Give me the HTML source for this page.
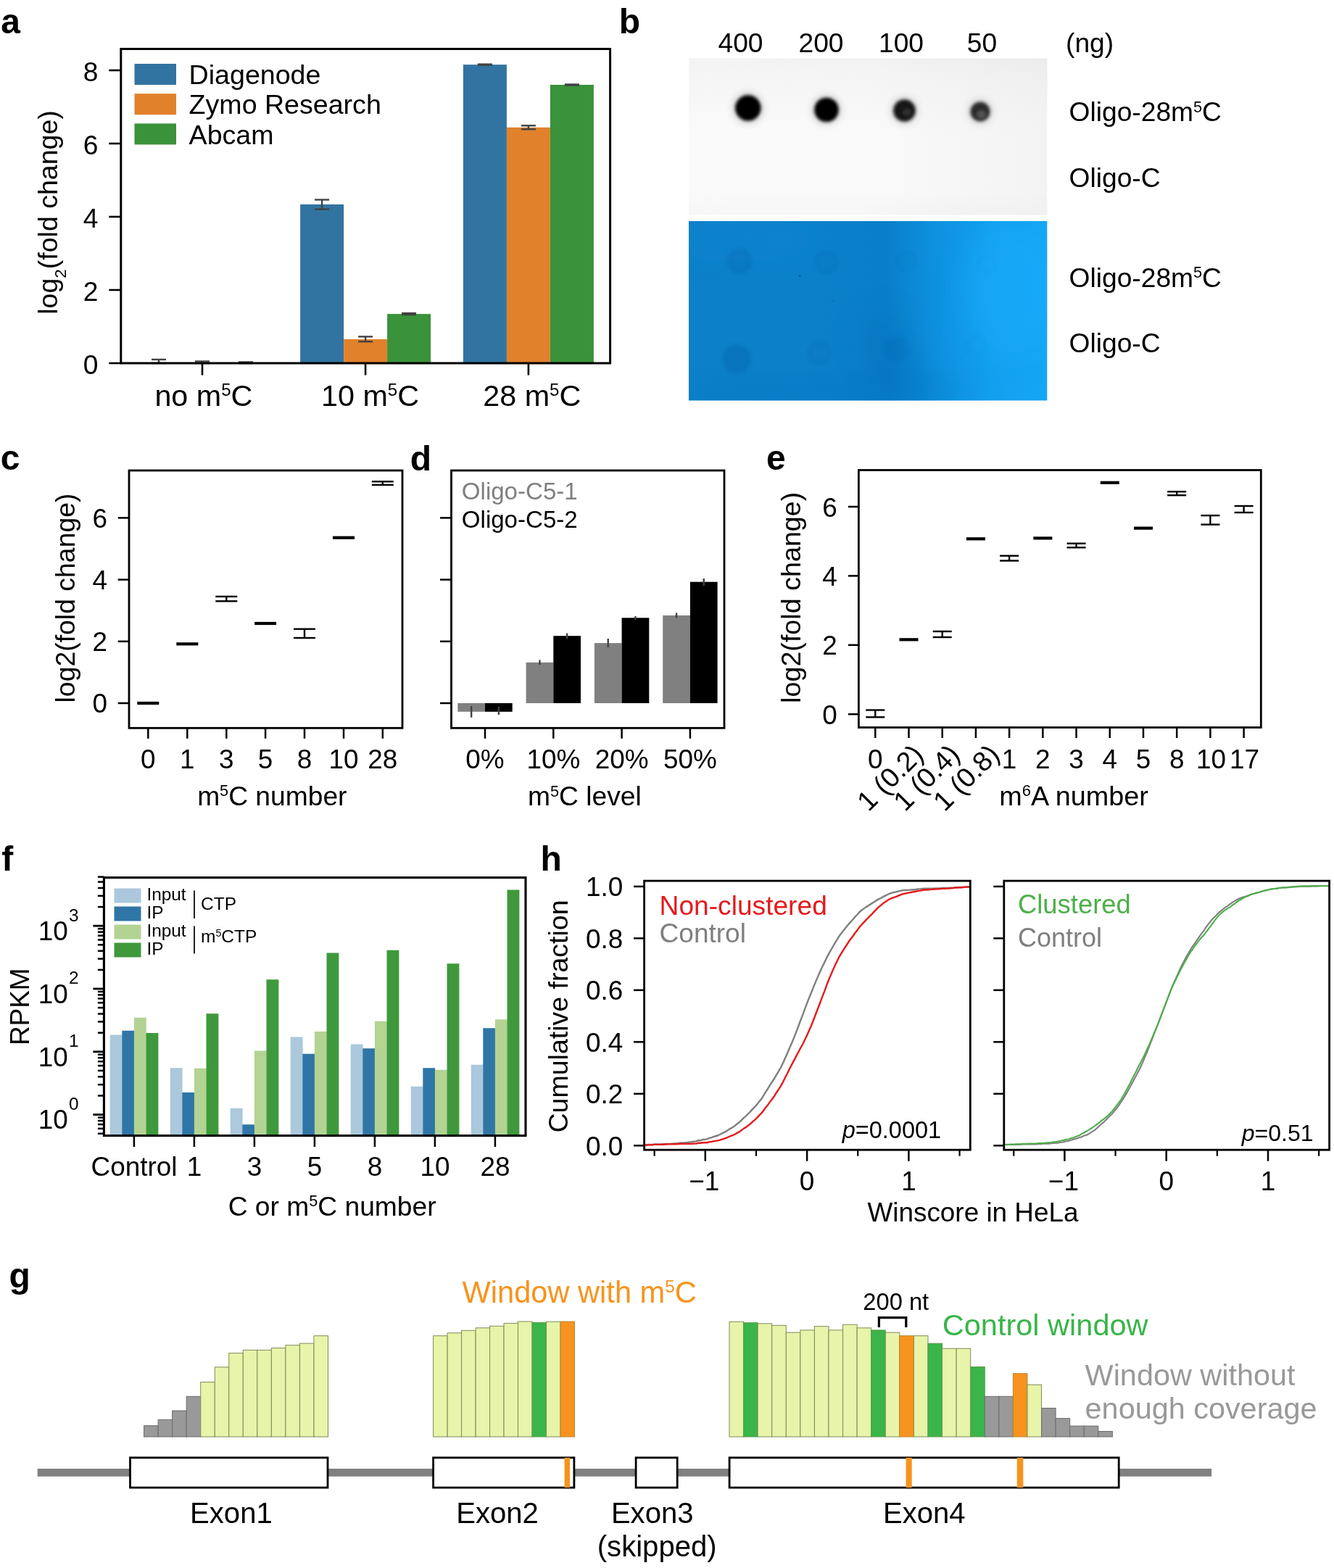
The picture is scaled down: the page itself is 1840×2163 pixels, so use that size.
<!DOCTYPE html>
<html lang="en">
<head>
<meta charset="utf-8">
<title>Figure: antibody evaluation and window analysis</title>
<style>
html,body{margin:0;padding:0;background:#fff;}
body{width:1840px;height:2163px;overflow:hidden;}
svg{display:block;font-family:'Liberation Sans', sans-serif;}
text{white-space:pre;}
</style>
</head>
<body>
<svg width="1840" height="2163" viewBox="0 0 1840 2163">
<defs>
<linearGradient id="bg1" x1="0" y1="0" x2="1" y2="0">
<stop offset="0" stop-color="#0c80c8"/><stop offset="0.3" stop-color="#0c81ca"/><stop offset="0.55" stop-color="#0a7fc9"/><stop offset="0.68" stop-color="#0e90de"/><stop offset="0.85" stop-color="#13a1ef"/><stop offset="1" stop-color="#14a6f5"/>
</linearGradient>
<linearGradient id="gg1" x1="0" y1="0" x2="0" y2="1">
<stop offset="0" stop-color="#eeeeee"/><stop offset="0.12" stop-color="#f2f2f2"/><stop offset="0.5" stop-color="#f8f8f8"/><stop offset="0.85" stop-color="#f8f8f8"/><stop offset="1" stop-color="#f3f3f3"/>
</linearGradient>
<linearGradient id="gg2" x1="0" y1="0" x2="1" y2="0">
<stop offset="0" stop-color="#fff" stop-opacity="0.3"/><stop offset="0.5" stop-color="#fff" stop-opacity="0.25"/><stop offset="0.85" stop-color="#ececec" stop-opacity="0.2"/><stop offset="1" stop-color="#e8e8e8" stop-opacity="0.3"/>
</linearGradient>
<clipPath id="cpb"><rect x="950" y="305" width="494.3" height="247.5"/></clipPath>
<clipPath id="cpg"><rect x="950" y="80.5" width="494.3" height="216"/></clipPath>
<filter id="bl3" x="-50%" y="-50%" width="200%" height="200%"><feGaussianBlur stdDeviation="3"/></filter>
<filter id="bl5" x="-50%" y="-50%" width="200%" height="200%"><feGaussianBlur stdDeviation="5"/></filter>
<filter id="bl20" x="-50%" y="-50%" width="200%" height="200%"><feGaussianBlur stdDeviation="22"/></filter>
<filter id="bl2" x="-50%" y="-50%" width="200%" height="200%"><feGaussianBlur stdDeviation="2.2"/></filter>
</defs>
<rect x="0" y="0" width="1840" height="2163" fill="#fff"/>
<!-- panel a -->
<text x="1.2" y="45.8" font-size="48" font-weight="bold">a</text>
<line x1="219" y1="501" x2="219" y2="495.95" stroke="#424242" stroke-width="2.4"/>
<line x1="209" y1="501" x2="229" y2="501" stroke="#424242" stroke-width="2.4"/>
<line x1="209" y1="495.95" x2="229" y2="495.95" stroke="#424242" stroke-width="2.4"/>
<line x1="279" y1="501" x2="279" y2="498.48" stroke="#424242" stroke-width="2.4"/>
<line x1="269" y1="501" x2="289" y2="501" stroke="#424242" stroke-width="2.4"/>
<line x1="269" y1="498.48" x2="289" y2="498.48" stroke="#424242" stroke-width="2.4"/>
<line x1="339" y1="501" x2="339" y2="499.49" stroke="#424242" stroke-width="2.4"/>
<line x1="329" y1="501" x2="349" y2="501" stroke="#424242" stroke-width="2.4"/>
<line x1="329" y1="499.49" x2="349" y2="499.49" stroke="#424242" stroke-width="2.4"/>
<rect x="414.1" y="281.98" width="60" height="219.02" fill="#3274a1"/>
<line x1="444.1" y1="288.65" x2="444.1" y2="275.52" stroke="#424242" stroke-width="2.4"/>
<line x1="434.1" y1="288.65" x2="454.1" y2="288.65" stroke="#424242" stroke-width="2.4"/>
<line x1="434.1" y1="275.52" x2="454.1" y2="275.52" stroke="#424242" stroke-width="2.4"/>
<rect x="474.1" y="467.92" width="60" height="33.08" fill="#e1812c"/>
<line x1="504.1" y1="471.2" x2="504.1" y2="464.39" stroke="#424242" stroke-width="2.4"/>
<line x1="494.1" y1="471.2" x2="514.1" y2="471.2" stroke="#424242" stroke-width="2.4"/>
<line x1="494.1" y1="464.39" x2="514.1" y2="464.39" stroke="#424242" stroke-width="2.4"/>
<rect x="534.1" y="433.08" width="60" height="67.92" fill="#3a923a"/>
<line x1="564.1" y1="434.09" x2="564.1" y2="432.07" stroke="#424242" stroke-width="2.4"/>
<line x1="554.1" y1="434.09" x2="574.1" y2="434.09" stroke="#424242" stroke-width="2.4"/>
<line x1="554.1" y1="432.07" x2="574.1" y2="432.07" stroke="#424242" stroke-width="2.4"/>
<rect x="638.9" y="89.17" width="60" height="411.83" fill="#3274a1"/>
<line x1="668.9" y1="89.68" x2="668.9" y2="88.67" stroke="#424242" stroke-width="2.4"/>
<line x1="658.9" y1="89.68" x2="678.9" y2="89.68" stroke="#424242" stroke-width="2.4"/>
<line x1="658.9" y1="88.67" x2="678.9" y2="88.67" stroke="#424242" stroke-width="2.4"/>
<rect x="698.9" y="175.78" width="60" height="325.22" fill="#e1812c"/>
<line x1="728.9" y1="178.31" x2="728.9" y2="173.25" stroke="#424242" stroke-width="2.4"/>
<line x1="718.9" y1="178.31" x2="738.9" y2="178.31" stroke="#424242" stroke-width="2.4"/>
<line x1="718.9" y1="173.25" x2="738.9" y2="173.25" stroke="#424242" stroke-width="2.4"/>
<rect x="758.9" y="117" width="60" height="384" fill="#3a923a"/>
<line x1="788.9" y1="117.5" x2="788.9" y2="116.49" stroke="#424242" stroke-width="2.4"/>
<line x1="778.9" y1="117.5" x2="798.9" y2="117.5" stroke="#424242" stroke-width="2.4"/>
<line x1="778.9" y1="116.49" x2="798.9" y2="116.49" stroke="#424242" stroke-width="2.4"/>
<rect x="166.8" y="67.5" width="674.8" height="433.5" fill="none" stroke="#000" stroke-width="3"/>
<line x1="150.3" y1="501" x2="166.8" y2="501" stroke="#000" stroke-width="2.6"/>
<text x="135.4" y="516.2" font-size="37.2" text-anchor="end">0</text>
<line x1="150.3" y1="400" x2="166.8" y2="400" stroke="#000" stroke-width="2.6"/>
<text x="135.4" y="415.2" font-size="37.2" text-anchor="end">2</text>
<line x1="150.3" y1="299" x2="166.8" y2="299" stroke="#000" stroke-width="2.6"/>
<text x="135.4" y="314.2" font-size="37.2" text-anchor="end">4</text>
<line x1="150.3" y1="198" x2="166.8" y2="198" stroke="#000" stroke-width="2.6"/>
<text x="135.4" y="213.2" font-size="37.2" text-anchor="end">6</text>
<line x1="150.3" y1="97" x2="166.8" y2="97" stroke="#000" stroke-width="2.6"/>
<text x="135.4" y="112.2" font-size="37.2" text-anchor="end">8</text>
<line x1="279" y1="501" x2="279" y2="517.5" stroke="#000" stroke-width="2.6"/>
<line x1="504.1" y1="501" x2="504.1" y2="517.5" stroke="#000" stroke-width="2.6"/>
<line x1="728.9" y1="501" x2="728.9" y2="517.5" stroke="#000" stroke-width="2.6"/>
<text x="280.9" y="560" font-size="41.3" text-anchor="middle">no m<tspan dy="-13.75" font-size="24.08">5</tspan><tspan dy="13.75">C</tspan></text>
<text x="510.5" y="560" font-size="41.3" text-anchor="middle">10 m<tspan dy="-13.75" font-size="24.08">5</tspan><tspan dy="13.75">C</tspan></text>
<text x="733.8" y="560" font-size="41.3" text-anchor="middle">28 m<tspan dy="-13.75" font-size="24.08">5</tspan><tspan dy="13.75">C</tspan></text>
<text font-size="37.5" text-anchor="middle" transform="translate(78.5 293) rotate(-90)">log<tspan dy="12.38" font-size="22.5">2</tspan><tspan dy="-12.38">(fold change)</tspan></text>
<rect x="185.5" y="88" width="57.5" height="29" fill="#3274a1"/>
<text x="260.6" y="115.9" font-size="37.6">Diagenode</text>
<rect x="185.5" y="129.2" width="57.5" height="29" fill="#e1812c"/>
<text x="260.6" y="157.2" font-size="37.6">Zymo Research</text>
<rect x="185.5" y="170.4" width="57.5" height="29" fill="#3a923a"/>
<text x="260.6" y="198.5" font-size="37.6">Abcam</text>
<!-- panel b -->
<text x="853.8" y="45.8" font-size="48" font-weight="bold">b</text>
<rect x="950" y="80.5" width="494.3" height="216" fill="url(#gg1)"/>
<rect x="950" y="80.5" width="494.3" height="216" fill="url(#gg2)"/>
<rect x="950" y="305" width="494.3" height="247.5" fill="url(#bg1)"/>
<g clip-path="url(#cpb)">
<ellipse cx="1400" cy="400" rx="70" ry="90" fill="#1aaeff" opacity="0.45" filter="url(#bl20)"/>
<ellipse cx="1235" cy="500" rx="38" ry="70" fill="#0568b4" opacity="0.30" filter="url(#bl20)" transform="rotate(-25 1235 500)"/>
<ellipse cx="1010" cy="330" rx="120" ry="30" fill="#0a86d4" opacity="0.35" filter="url(#bl20)"/>
<ellipse cx="1150" cy="545" rx="200" ry="18" fill="#0672bd" opacity="0.35" filter="url(#bl20)"/>
<circle cx="1020" cy="360" r="16" fill="#04509a" opacity="0.13" filter="url(#bl3)"/>
<circle cx="1020" cy="360" r="14.5" fill="none" stroke="#044a92" stroke-width="4" opacity="0.12" filter="url(#bl2)"/>
<circle cx="1140" cy="362" r="15" fill="#04509a" opacity="0.04" filter="url(#bl3)"/>
<circle cx="1140" cy="362" r="13.5" fill="none" stroke="#044a92" stroke-width="4" opacity="0.1" filter="url(#bl2)"/>
<circle cx="1250" cy="360" r="14" fill="#04509a" opacity="0.02" filter="url(#bl3)"/>
<circle cx="1250" cy="360" r="12.5" fill="none" stroke="#044a92" stroke-width="4" opacity="0.04" filter="url(#bl2)"/>
<circle cx="1362" cy="364" r="11.5" fill="none" stroke="#044a92" stroke-width="4" opacity="0.03" filter="url(#bl2)"/>
<circle cx="1016" cy="495" r="18.5" fill="#04509a" opacity="0.22" filter="url(#bl3)"/>
<circle cx="1016" cy="495" r="17" fill="none" stroke="#044a92" stroke-width="4" opacity="0.08" filter="url(#bl2)"/>
<circle cx="1130" cy="487" r="15" fill="#04509a" opacity="0.05" filter="url(#bl3)"/>
<circle cx="1130" cy="487" r="13.5" fill="none" stroke="#044a92" stroke-width="4" opacity="0.09" filter="url(#bl2)"/>
<circle cx="1237" cy="482" r="16" fill="#04509a" opacity="0.1" filter="url(#bl3)"/>
<circle cx="1237" cy="482" r="14.5" fill="none" stroke="#044a92" stroke-width="4" opacity="0.03" filter="url(#bl2)"/>
<circle cx="1345" cy="478" r="12.5" fill="none" stroke="#044a92" stroke-width="4" opacity="0.03" filter="url(#bl2)"/>
<circle cx="1103" cy="380.5" r="1.4" fill="#05468c" opacity="0.8"/>
<circle cx="1149.5" cy="415" r="1.1" fill="#05569c" opacity="0.5"/>
</g>
<g clip-path="url(#cpg)">
<circle cx="1031.8" cy="149" r="22.5" fill="#000" opacity="0.12" filter="url(#bl5)"/>
<circle cx="1031.8" cy="149" r="17.8" fill="#000" opacity="1" filter="url(#bl2)"/>
<circle cx="1140" cy="151.5" r="21.5" fill="#030303" opacity="0.12" filter="url(#bl5)"/>
<circle cx="1140" cy="151.5" r="16.8" fill="#030303" opacity="1" filter="url(#bl2)"/>
<circle cx="1247.5" cy="152.5" r="20" fill="#151515" opacity="0.12" filter="url(#bl5)"/>
<circle cx="1247.5" cy="152.5" r="15.3" fill="#151515" opacity="1" filter="url(#bl2)"/>
<circle cx="1352" cy="154" r="18.3" fill="#2b2b2b" opacity="0.12" filter="url(#bl5)"/>
<circle cx="1352" cy="154" r="13.6" fill="#2b2b2b" opacity="1" filter="url(#bl2)"/>
<ellipse cx="1251" cy="155" rx="6" ry="5" fill="#555" opacity="0.45" filter="url(#bl2)"/>
<ellipse cx="1353.5" cy="158" rx="6.5" ry="6" fill="#777" opacity="0.55" filter="url(#bl2)"/>
</g>
<text x="1021.5" y="72.3" font-size="37.2" text-anchor="middle">400</text>
<text x="1132.5" y="72.3" font-size="37.2" text-anchor="middle">200</text>
<text x="1243" y="72.3" font-size="37.2" text-anchor="middle">100</text>
<text x="1354.5" y="72.3" font-size="37.2" text-anchor="middle">50</text>
<text x="1470" y="72.3" font-size="37.2">(ng)</text>
<text x="1474.5" y="167" font-size="37.2">Oligo-28m<tspan dy="-12.39" font-size="21.69">5</tspan><tspan dy="12.39">C</tspan></text>
<text x="1474.5" y="257.5" font-size="37.2">Oligo-C</text>
<text x="1474.5" y="395.8" font-size="37.2">Oligo-28m<tspan dy="-12.39" font-size="21.69">5</tspan><tspan dy="12.39">C</tspan></text>
<text x="1474.5" y="486.3" font-size="37.2">Oligo-C</text>
<!-- panel c -->
<text x="0.8" y="648.4" font-size="48" font-weight="bold">c</text>
<rect x="178" y="649" width="377" height="355.3" fill="none" stroke="#000" stroke-width="2.8"/>
<line x1="162.7" y1="970" x2="178" y2="970" stroke="#000" stroke-width="2.5"/>
<text x="148" y="983.2" font-size="36.9" text-anchor="end">0</text>
<line x1="162.7" y1="884.8" x2="178" y2="884.8" stroke="#000" stroke-width="2.5"/>
<text x="148" y="898" font-size="36.9" text-anchor="end">2</text>
<line x1="162.7" y1="799.6" x2="178" y2="799.6" stroke="#000" stroke-width="2.5"/>
<text x="148" y="812.8" font-size="36.9" text-anchor="end">4</text>
<line x1="162.7" y1="714.4" x2="178" y2="714.4" stroke="#000" stroke-width="2.5"/>
<text x="148" y="727.6" font-size="36.9" text-anchor="end">6</text>
<line x1="204.3" y1="1004.3" x2="204.3" y2="1018.8" stroke="#000" stroke-width="2.5"/>
<text x="204.3" y="1060.2" font-size="36.9" text-anchor="middle">0</text>
<line x1="189.3" y1="970" x2="219.3" y2="970" stroke="#000" stroke-width="4.2"/>
<line x1="258.3" y1="1004.3" x2="258.3" y2="1018.8" stroke="#000" stroke-width="2.5"/>
<text x="258.3" y="1060.2" font-size="36.9" text-anchor="middle">1</text>
<line x1="243.3" y1="888.3" x2="273.3" y2="888.3" stroke="#000" stroke-width="4.2"/>
<line x1="312.3" y1="1004.3" x2="312.3" y2="1018.8" stroke="#000" stroke-width="2.5"/>
<text x="312.3" y="1060.2" font-size="36.9" text-anchor="middle">3</text>
<line x1="297.3" y1="822.9" x2="327.3" y2="822.9" stroke="#000" stroke-width="2.4"/>
<line x1="297.3" y1="829.3" x2="327.3" y2="829.3" stroke="#000" stroke-width="2.4"/>
<line x1="312.3" y1="822.9" x2="312.3" y2="829.3" stroke="#000" stroke-width="2.4"/>
<line x1="366.1" y1="1004.3" x2="366.1" y2="1018.8" stroke="#000" stroke-width="2.5"/>
<text x="366.1" y="1060.2" font-size="36.9" text-anchor="middle">5</text>
<line x1="351.1" y1="860" x2="381.1" y2="860" stroke="#000" stroke-width="4.2"/>
<line x1="420" y1="1004.3" x2="420" y2="1018.8" stroke="#000" stroke-width="2.5"/>
<text x="420" y="1060.2" font-size="36.9" text-anchor="middle">8</text>
<line x1="405" y1="867.7" x2="435" y2="867.7" stroke="#000" stroke-width="2.4"/>
<line x1="405" y1="880" x2="435" y2="880" stroke="#000" stroke-width="2.4"/>
<line x1="420" y1="867.7" x2="420" y2="880" stroke="#000" stroke-width="2.4"/>
<line x1="474" y1="1004.3" x2="474" y2="1018.8" stroke="#000" stroke-width="2.5"/>
<text x="474" y="1060.2" font-size="36.9" text-anchor="middle">10</text>
<line x1="459" y1="741.7" x2="489" y2="741.7" stroke="#000" stroke-width="4.2"/>
<line x1="527.8" y1="1004.3" x2="527.8" y2="1018.8" stroke="#000" stroke-width="2.5"/>
<text x="527.8" y="1060.2" font-size="36.9" text-anchor="middle">28</text>
<line x1="512.8" y1="664.3" x2="542.8" y2="664.3" stroke="#000" stroke-width="2.4"/>
<line x1="512.8" y1="668.9" x2="542.8" y2="668.9" stroke="#000" stroke-width="2.4"/>
<line x1="527.8" y1="664.3" x2="527.8" y2="668.9" stroke="#000" stroke-width="2.4"/>
<text x="375.3" y="1110.7" font-size="37.2" text-anchor="middle">m<tspan dy="-12.39" font-size="21.69">5</tspan><tspan dy="12.39">C number</tspan></text>
<text font-size="37.4" text-anchor="middle" transform="translate(102.6 825) rotate(-90)">log2(fold change)</text>
<!-- panel d -->
<text x="565.8" y="648.7" font-size="48" font-weight="bold">d</text>
<rect x="631.3" y="970" width="37.7" height="11.8" fill="#808080"/>
<rect x="669" y="970" width="37.7" height="11.8" fill="#000"/>
<line x1="650.15" y1="974" x2="650.15" y2="989.7" stroke="#424242" stroke-width="2.4"/>
<line x1="687.85" y1="975" x2="687.85" y2="986" stroke="#424242" stroke-width="2.4"/>
<rect x="725.6" y="913.8" width="37.7" height="56.2" fill="#808080"/>
<rect x="763.3" y="877.2" width="37.7" height="92.8" fill="#000"/>
<line x1="744.45" y1="910.5" x2="744.45" y2="917" stroke="#424242" stroke-width="2.4"/>
<line x1="782.15" y1="873.5" x2="782.15" y2="881" stroke="#424242" stroke-width="2.4"/>
<rect x="819.9" y="887.1" width="37.7" height="82.9" fill="#808080"/>
<rect x="857.6" y="852.3" width="37.7" height="117.7" fill="#000"/>
<line x1="838.75" y1="881" x2="838.75" y2="893" stroke="#424242" stroke-width="2.4"/>
<line x1="876.45" y1="850" x2="876.45" y2="855" stroke="#424242" stroke-width="2.4"/>
<rect x="914.2" y="848.9" width="37.7" height="121.1" fill="#808080"/>
<rect x="951.9" y="802.7" width="37.7" height="167.3" fill="#000"/>
<line x1="933.05" y1="845.5" x2="933.05" y2="852.5" stroke="#424242" stroke-width="2.4"/>
<line x1="970.75" y1="798" x2="970.75" y2="808" stroke="#424242" stroke-width="2.4"/>
<rect x="622.5" y="649" width="376.5" height="355.3" fill="none" stroke="#000" stroke-width="2.8"/>
<line x1="607" y1="970" x2="622.5" y2="970" stroke="#000" stroke-width="2.5"/>
<line x1="607" y1="884.8" x2="622.5" y2="884.8" stroke="#000" stroke-width="2.5"/>
<line x1="607" y1="799.6" x2="622.5" y2="799.6" stroke="#000" stroke-width="2.5"/>
<line x1="607" y1="714.4" x2="622.5" y2="714.4" stroke="#000" stroke-width="2.5"/>
<line x1="669" y1="1004.3" x2="669" y2="1018.8" stroke="#000" stroke-width="2.5"/>
<text x="669" y="1060" font-size="36.9" text-anchor="middle">0%</text>
<line x1="763.3" y1="1004.3" x2="763.3" y2="1018.8" stroke="#000" stroke-width="2.5"/>
<text x="763.3" y="1060" font-size="36.9" text-anchor="middle">10%</text>
<line x1="857.6" y1="1004.3" x2="857.6" y2="1018.8" stroke="#000" stroke-width="2.5"/>
<text x="857.6" y="1060" font-size="36.9" text-anchor="middle">20%</text>
<line x1="951.9" y1="1004.3" x2="951.9" y2="1018.8" stroke="#000" stroke-width="2.5"/>
<text x="951.9" y="1060" font-size="36.9" text-anchor="middle">50%</text>
<text x="806.4" y="1111.2" font-size="37.2" text-anchor="middle">m<tspan dy="-12.39" font-size="21.69">5</tspan><tspan dy="12.39">C level</tspan></text>
<text x="636.8" y="688.8" font-size="33.1" fill="#808080">Oligo-C5-1</text>
<text x="636.8" y="727.6" font-size="33.1">Oligo-C5-2</text>
<!-- panel e -->
<text x="1057" y="648.3" font-size="48" font-weight="bold">e</text>
<rect x="1184.4" y="648.5" width="554.9" height="355" fill="none" stroke="#000" stroke-width="2.8"/>
<line x1="1169.9" y1="985.2" x2="1184.4" y2="985.2" stroke="#000" stroke-width="2.5"/>
<text x="1154.8" y="998.8" font-size="36.9" text-anchor="end">0</text>
<line x1="1169.9" y1="889.8" x2="1184.4" y2="889.8" stroke="#000" stroke-width="2.5"/>
<text x="1154.8" y="903.4" font-size="36.9" text-anchor="end">2</text>
<line x1="1169.9" y1="794.4" x2="1184.4" y2="794.4" stroke="#000" stroke-width="2.5"/>
<text x="1154.8" y="808" font-size="36.9" text-anchor="end">4</text>
<line x1="1169.9" y1="699" x2="1184.4" y2="699" stroke="#000" stroke-width="2.5"/>
<text x="1154.8" y="712.6" font-size="36.9" text-anchor="end">6</text>
<line x1="1207.3" y1="1003.5" x2="1207.3" y2="1018" stroke="#000" stroke-width="2.5"/>
<text x="1207.3" y="1059.6" font-size="36.9" text-anchor="middle">0</text>
<line x1="1194.3" y1="979.5" x2="1220.3" y2="979.5" stroke="#000" stroke-width="2.4"/>
<line x1="1194.3" y1="989.3" x2="1220.3" y2="989.3" stroke="#000" stroke-width="2.4"/>
<line x1="1207.3" y1="979.5" x2="1207.3" y2="989.3" stroke="#000" stroke-width="2.4"/>
<line x1="1253.51" y1="1003.5" x2="1253.51" y2="1018" stroke="#000" stroke-width="2.5"/>
<text font-size="38" text-anchor="end" transform="translate(1275.61 1043) rotate(-45)">1 (0.2)</text>
<line x1="1240.51" y1="882.3" x2="1266.51" y2="882.3" stroke="#000" stroke-width="4.2"/>
<line x1="1299.72" y1="1003.5" x2="1299.72" y2="1018" stroke="#000" stroke-width="2.5"/>
<text font-size="38" text-anchor="end" transform="translate(1325.92 1043) rotate(-45)">1 (0.4)</text>
<line x1="1286.72" y1="871" x2="1312.72" y2="871" stroke="#000" stroke-width="2.4"/>
<line x1="1286.72" y1="879" x2="1312.72" y2="879" stroke="#000" stroke-width="2.4"/>
<line x1="1299.72" y1="871" x2="1299.72" y2="879" stroke="#000" stroke-width="2.4"/>
<line x1="1345.93" y1="1003.5" x2="1345.93" y2="1018" stroke="#000" stroke-width="2.5"/>
<text font-size="38" text-anchor="end" transform="translate(1380.63 1043) rotate(-45)">1 (0.8)</text>
<line x1="1332.93" y1="743.3" x2="1358.93" y2="743.3" stroke="#000" stroke-width="4.2"/>
<line x1="1392.14" y1="1003.5" x2="1392.14" y2="1018" stroke="#000" stroke-width="2.5"/>
<text x="1392.14" y="1059.6" font-size="36.9" text-anchor="middle">1</text>
<line x1="1379.14" y1="766.7" x2="1405.14" y2="766.7" stroke="#000" stroke-width="2.4"/>
<line x1="1379.14" y1="773.5" x2="1405.14" y2="773.5" stroke="#000" stroke-width="2.4"/>
<line x1="1392.14" y1="766.7" x2="1392.14" y2="773.5" stroke="#000" stroke-width="2.4"/>
<line x1="1438.35" y1="1003.5" x2="1438.35" y2="1018" stroke="#000" stroke-width="2.5"/>
<text x="1438.35" y="1059.6" font-size="36.9" text-anchor="middle">2</text>
<line x1="1425.35" y1="742.4" x2="1451.35" y2="742.4" stroke="#000" stroke-width="4.2"/>
<line x1="1484.56" y1="1003.5" x2="1484.56" y2="1018" stroke="#000" stroke-width="2.5"/>
<text x="1484.56" y="1059.6" font-size="36.9" text-anchor="middle">3</text>
<line x1="1471.56" y1="749.7" x2="1497.56" y2="749.7" stroke="#000" stroke-width="2.4"/>
<line x1="1471.56" y1="755.3" x2="1497.56" y2="755.3" stroke="#000" stroke-width="2.4"/>
<line x1="1484.56" y1="749.7" x2="1484.56" y2="755.3" stroke="#000" stroke-width="2.4"/>
<line x1="1530.77" y1="1003.5" x2="1530.77" y2="1018" stroke="#000" stroke-width="2.5"/>
<text x="1530.77" y="1059.6" font-size="36.9" text-anchor="middle">4</text>
<line x1="1517.77" y1="665.8" x2="1543.77" y2="665.8" stroke="#000" stroke-width="4.2"/>
<line x1="1576.98" y1="1003.5" x2="1576.98" y2="1018" stroke="#000" stroke-width="2.5"/>
<text x="1576.98" y="1059.6" font-size="36.9" text-anchor="middle">5</text>
<line x1="1563.98" y1="728.6" x2="1589.98" y2="728.6" stroke="#000" stroke-width="4.2"/>
<line x1="1623.19" y1="1003.5" x2="1623.19" y2="1018" stroke="#000" stroke-width="2.5"/>
<text x="1623.19" y="1059.6" font-size="36.9" text-anchor="middle">8</text>
<line x1="1610.19" y1="678.2" x2="1636.19" y2="678.2" stroke="#000" stroke-width="2.4"/>
<line x1="1610.19" y1="683.2" x2="1636.19" y2="683.2" stroke="#000" stroke-width="2.4"/>
<line x1="1623.19" y1="678.2" x2="1623.19" y2="683.2" stroke="#000" stroke-width="2.4"/>
<line x1="1669.4" y1="1003.5" x2="1669.4" y2="1018" stroke="#000" stroke-width="2.5"/>
<text x="1670.4" y="1059.6" font-size="36.9" text-anchor="middle">10</text>
<line x1="1656.4" y1="711.1" x2="1682.4" y2="711.1" stroke="#000" stroke-width="2.4"/>
<line x1="1656.4" y1="723.6" x2="1682.4" y2="723.6" stroke="#000" stroke-width="2.4"/>
<line x1="1669.4" y1="711.1" x2="1669.4" y2="723.6" stroke="#000" stroke-width="2.4"/>
<line x1="1715.61" y1="1003.5" x2="1715.61" y2="1018" stroke="#000" stroke-width="2.5"/>
<text x="1716.61" y="1059.6" font-size="36.9" text-anchor="middle">17</text>
<line x1="1702.61" y1="698" x2="1728.61" y2="698" stroke="#000" stroke-width="2.4"/>
<line x1="1702.61" y1="707" x2="1728.61" y2="707" stroke="#000" stroke-width="2.4"/>
<line x1="1715.61" y1="698" x2="1715.61" y2="707" stroke="#000" stroke-width="2.4"/>
<text x="1481.1" y="1111" font-size="37.8" text-anchor="middle">m<tspan dy="-12.59" font-size="22.04">6</tspan><tspan dy="12.59">A number</tspan></text>
<text font-size="37.7" text-anchor="middle" transform="translate(1103.5 824.3) rotate(-90)">log2(fold change)</text>
<!-- panel f -->
<text x="2.2" y="1201.4" font-size="48" font-weight="bold">f</text>
<rect x="151.7" y="1427.5" width="16.9" height="139.1" fill="#abc8dc"/>
<rect x="168.3" y="1421.75" width="16.9" height="144.85" fill="#2f76a6"/>
<rect x="184.9" y="1403.75" width="16.9" height="162.85" fill="#b3d393"/>
<rect x="201.5" y="1425" width="16.9" height="141.6" fill="#3f993c"/>
<rect x="234.7" y="1473.25" width="16.9" height="93.35" fill="#abc8dc"/>
<rect x="251.3" y="1507" width="16.9" height="59.6" fill="#2f76a6"/>
<rect x="267.9" y="1473.75" width="16.9" height="92.85" fill="#b3d393"/>
<rect x="284.5" y="1398.25" width="16.9" height="168.35" fill="#3f993c"/>
<rect x="317.7" y="1528.75" width="16.9" height="37.85" fill="#abc8dc"/>
<rect x="334.3" y="1551.25" width="16.9" height="15.35" fill="#2f76a6"/>
<rect x="350.9" y="1449.5" width="16.9" height="117.1" fill="#b3d393"/>
<rect x="367.5" y="1351.25" width="16.9" height="215.35" fill="#3f993c"/>
<rect x="400.7" y="1430.5" width="16.9" height="136.1" fill="#abc8dc"/>
<rect x="417.3" y="1453.75" width="16.9" height="112.85" fill="#2f76a6"/>
<rect x="433.9" y="1423" width="16.9" height="143.6" fill="#b3d393"/>
<rect x="450.5" y="1314.5" width="16.9" height="252.1" fill="#3f993c"/>
<rect x="483.7" y="1440.5" width="16.9" height="126.1" fill="#abc8dc"/>
<rect x="500.3" y="1446.25" width="16.9" height="120.35" fill="#2f76a6"/>
<rect x="516.9" y="1408.75" width="16.9" height="157.85" fill="#b3d393"/>
<rect x="533.5" y="1310.75" width="16.9" height="255.85" fill="#3f993c"/>
<rect x="566.7" y="1498.75" width="16.9" height="67.85" fill="#abc8dc"/>
<rect x="583.3" y="1473.25" width="16.9" height="93.35" fill="#2f76a6"/>
<rect x="599.9" y="1475.75" width="16.9" height="90.85" fill="#b3d393"/>
<rect x="616.5" y="1329.25" width="16.9" height="237.35" fill="#3f993c"/>
<rect x="649.7" y="1468.75" width="16.9" height="97.85" fill="#abc8dc"/>
<rect x="666.3" y="1418.25" width="16.9" height="148.35" fill="#2f76a6"/>
<rect x="682.9" y="1406.25" width="16.9" height="160.35" fill="#b3d393"/>
<rect x="699.5" y="1227.5" width="16.9" height="339.1" fill="#3f993c"/>
<rect x="143.4" y="1210.6" width="581.6" height="356" fill="none" stroke="#000" stroke-width="3.1"/>
<line x1="134.9" y1="1563.73" x2="143.4" y2="1563.73" stroke="#000" stroke-width="2.5"/>
<line x1="134.9" y1="1556.86" x2="143.4" y2="1556.86" stroke="#000" stroke-width="2.5"/>
<line x1="134.9" y1="1551.05" x2="143.4" y2="1551.05" stroke="#000" stroke-width="2.5"/>
<line x1="134.9" y1="1546.01" x2="143.4" y2="1546.01" stroke="#000" stroke-width="2.5"/>
<line x1="134.9" y1="1541.57" x2="143.4" y2="1541.57" stroke="#000" stroke-width="2.5"/>
<line x1="128.4" y1="1537.6" x2="143.4" y2="1537.6" stroke="#000" stroke-width="2.8"/>
<line x1="134.9" y1="1511.47" x2="143.4" y2="1511.47" stroke="#000" stroke-width="2.5"/>
<line x1="134.9" y1="1496.19" x2="143.4" y2="1496.19" stroke="#000" stroke-width="2.5"/>
<line x1="134.9" y1="1485.34" x2="143.4" y2="1485.34" stroke="#000" stroke-width="2.5"/>
<line x1="134.9" y1="1476.93" x2="143.4" y2="1476.93" stroke="#000" stroke-width="2.5"/>
<line x1="134.9" y1="1470.06" x2="143.4" y2="1470.06" stroke="#000" stroke-width="2.5"/>
<line x1="134.9" y1="1464.25" x2="143.4" y2="1464.25" stroke="#000" stroke-width="2.5"/>
<line x1="134.9" y1="1459.21" x2="143.4" y2="1459.21" stroke="#000" stroke-width="2.5"/>
<line x1="134.9" y1="1454.77" x2="143.4" y2="1454.77" stroke="#000" stroke-width="2.5"/>
<line x1="128.4" y1="1450.8" x2="143.4" y2="1450.8" stroke="#000" stroke-width="2.8"/>
<line x1="134.9" y1="1424.67" x2="143.4" y2="1424.67" stroke="#000" stroke-width="2.5"/>
<line x1="134.9" y1="1409.39" x2="143.4" y2="1409.39" stroke="#000" stroke-width="2.5"/>
<line x1="134.9" y1="1398.54" x2="143.4" y2="1398.54" stroke="#000" stroke-width="2.5"/>
<line x1="134.9" y1="1390.13" x2="143.4" y2="1390.13" stroke="#000" stroke-width="2.5"/>
<line x1="134.9" y1="1383.26" x2="143.4" y2="1383.26" stroke="#000" stroke-width="2.5"/>
<line x1="134.9" y1="1377.45" x2="143.4" y2="1377.45" stroke="#000" stroke-width="2.5"/>
<line x1="134.9" y1="1372.41" x2="143.4" y2="1372.41" stroke="#000" stroke-width="2.5"/>
<line x1="134.9" y1="1367.97" x2="143.4" y2="1367.97" stroke="#000" stroke-width="2.5"/>
<line x1="128.4" y1="1364" x2="143.4" y2="1364" stroke="#000" stroke-width="2.8"/>
<line x1="134.9" y1="1337.87" x2="143.4" y2="1337.87" stroke="#000" stroke-width="2.5"/>
<line x1="134.9" y1="1322.59" x2="143.4" y2="1322.59" stroke="#000" stroke-width="2.5"/>
<line x1="134.9" y1="1311.74" x2="143.4" y2="1311.74" stroke="#000" stroke-width="2.5"/>
<line x1="134.9" y1="1303.33" x2="143.4" y2="1303.33" stroke="#000" stroke-width="2.5"/>
<line x1="134.9" y1="1296.46" x2="143.4" y2="1296.46" stroke="#000" stroke-width="2.5"/>
<line x1="134.9" y1="1290.65" x2="143.4" y2="1290.65" stroke="#000" stroke-width="2.5"/>
<line x1="134.9" y1="1285.61" x2="143.4" y2="1285.61" stroke="#000" stroke-width="2.5"/>
<line x1="134.9" y1="1281.17" x2="143.4" y2="1281.17" stroke="#000" stroke-width="2.5"/>
<line x1="128.4" y1="1277.2" x2="143.4" y2="1277.2" stroke="#000" stroke-width="2.8"/>
<line x1="134.9" y1="1251.07" x2="143.4" y2="1251.07" stroke="#000" stroke-width="2.5"/>
<line x1="134.9" y1="1235.79" x2="143.4" y2="1235.79" stroke="#000" stroke-width="2.5"/>
<line x1="134.9" y1="1224.94" x2="143.4" y2="1224.94" stroke="#000" stroke-width="2.5"/>
<line x1="134.9" y1="1216.53" x2="143.4" y2="1216.53" stroke="#000" stroke-width="2.5"/>
<line x1="134.9" y1="1209.66" x2="143.4" y2="1209.66" stroke="#000" stroke-width="2.5"/>
<text x="52.8" y="1557.4" font-size="36.9">10<tspan dy="-26.38" dx="1.2" font-size="24.35">0</tspan></text>
<text x="52.8" y="1470.6" font-size="36.9">10<tspan dy="-26.38" dx="1.2" font-size="24.35">1</tspan></text>
<text x="52.8" y="1383.8" font-size="36.9">10<tspan dy="-26.38" dx="1.2" font-size="24.35">2</tspan></text>
<text x="52.8" y="1297" font-size="36.9">10<tspan dy="-26.38" dx="1.2" font-size="24.35">3</tspan></text>
<line x1="184.9" y1="1566.6" x2="184.9" y2="1582.1" stroke="#000" stroke-width="2.5"/>
<text x="185" y="1622.4" font-size="36.9" text-anchor="middle">Control</text>
<line x1="267.9" y1="1566.6" x2="267.9" y2="1582.1" stroke="#000" stroke-width="2.5"/>
<text x="267.9" y="1622.4" font-size="36.9" text-anchor="middle">1</text>
<line x1="350.9" y1="1566.6" x2="350.9" y2="1582.1" stroke="#000" stroke-width="2.5"/>
<text x="350.9" y="1622.4" font-size="36.9" text-anchor="middle">3</text>
<line x1="433.9" y1="1566.6" x2="433.9" y2="1582.1" stroke="#000" stroke-width="2.5"/>
<text x="433.9" y="1622.4" font-size="36.9" text-anchor="middle">5</text>
<line x1="516.9" y1="1566.6" x2="516.9" y2="1582.1" stroke="#000" stroke-width="2.5"/>
<text x="516.9" y="1622.4" font-size="36.9" text-anchor="middle">8</text>
<line x1="599.9" y1="1566.6" x2="599.9" y2="1582.1" stroke="#000" stroke-width="2.5"/>
<text x="599.9" y="1622.4" font-size="36.9" text-anchor="middle">10</text>
<line x1="682.9" y1="1566.6" x2="682.9" y2="1582.1" stroke="#000" stroke-width="2.5"/>
<text x="682.9" y="1622.4" font-size="36.9" text-anchor="middle">28</text>
<text x="458.1" y="1676.6" font-size="37.2" text-anchor="middle">C or m<tspan dy="-12.39" font-size="21.69">5</tspan><tspan dy="12.39">C number</tspan></text>
<text font-size="36.9" text-anchor="middle" transform="translate(39.8 1388.8) rotate(-90)">RPKM</text>
<rect x="157.5" y="1225.5" width="37" height="20" fill="#abc8dc"/>
<rect x="157.5" y="1250.5" width="37" height="20" fill="#2f76a6"/>
<rect x="157.5" y="1275.5" width="37" height="20" fill="#b3d393"/>
<rect x="157.5" y="1300.5" width="37" height="20" fill="#3f993c"/>
<text x="202.4" y="1241.6" font-size="24.4">Input</text>
<text x="202.4" y="1267.2" font-size="24.4">IP</text>
<text x="202.4" y="1291.6" font-size="24.4">Input</text>
<text x="202.4" y="1317" font-size="24.4">IP</text>
<line x1="268" y1="1228.5" x2="268" y2="1267" stroke="#222" stroke-width="2"/>
<line x1="268" y1="1277.5" x2="268" y2="1315.5" stroke="#222" stroke-width="2"/>
<text x="277" y="1255.3" font-size="24.5">CTP</text>
<text x="277" y="1300.3" font-size="24.5">m<tspan dy="-8.16" font-size="14.28">5</tspan><tspan dy="8.16">CTP</tspan></text>
<!-- panel h -->
<text x="745.5" y="1201.4" font-size="48" font-weight="bold">h</text>
<polyline points="888.6,1579.43 891,1579.4 894,1579.03 897.01,1579.03 900.01,1578.97 903.01,1578.48 906.01,1578.48 909.01,1578.48 912.01,1578.48 915.02,1578.25 918.02,1578.05 921.02,1577.9 924.02,1577.9 927.02,1577.65 930.03,1577.44 933.03,1577.44 936.03,1576.85 939.03,1576.51 942.03,1576.44 945.03,1576.3 948.04,1576.01 951.04,1575.51 954.04,1575.19 957.04,1574.76 960.04,1574.37 963.05,1573.23 966.05,1573.22 969.05,1572.06 972.05,1571.96 975.05,1571.4 978.05,1570 981.06,1569.34 984.06,1568.22 987.06,1567.26 990.06,1566.26 993.06,1564.98 996.07,1563.31 999.07,1561.94 1002.07,1560.33 1005.07,1558.37 1008.07,1556.45 1011.07,1554.91 1014.08,1552.67 1017.08,1549.99 1020.08,1547.85 1023.08,1544.83 1026.08,1541.89 1029.09,1539.4 1032.09,1536.25 1035.09,1533.34 1038.09,1529.91 1041.09,1526.86 1044.09,1523.64 1047.1,1519.6 1050.1,1516.14 1053.1,1511.46 1056.1,1506.32 1059.1,1501.77 1062.11,1496.72 1065.11,1492.28 1068.11,1487.78 1071.11,1482.41 1074.11,1477.56 1077.11,1472.26 1080.12,1466.06 1083.12,1459.24 1086.12,1452.8 1089.12,1445.5 1092.12,1438.7 1095.13,1431.52 1098.13,1423.88 1101.13,1415.97 1104.13,1407.78 1107.13,1400.16 1110.13,1391.82 1113.14,1383.9 1116.14,1376.29 1119.14,1369.04 1122.14,1361.31 1125.14,1354.11 1128.15,1347.11 1131.15,1340.36 1134.15,1333.7 1137.15,1327.88 1140.15,1321.42 1143.15,1315.68 1146.16,1310.51 1149.16,1305.24 1152.16,1300.07 1155.16,1295.24 1158.16,1290.38 1161.17,1286.62 1164.17,1282.74 1167.17,1279.06 1170.17,1275.23 1173.17,1271.84 1176.17,1268.75 1179.18,1264.95 1182.18,1261.98 1185.18,1258.44 1188.18,1255.76 1191.18,1253.6 1194.19,1251.38 1197.19,1249.61 1200.19,1247.63 1203.19,1245.86 1206.19,1243.88 1209.19,1241.85 1212.2,1240.14 1215.2,1238.71 1218.2,1236.95 1221.2,1235.57 1224.2,1233.98 1227.2,1232.64 1230.21,1231.62 1233.21,1230.92 1236.21,1230.27 1239.21,1229.38 1242.21,1228.9 1245.22,1228.16 1248.22,1228.02 1251.22,1227.85 1254.22,1227.64 1257.22,1227.36 1260.22,1227.19 1263.23,1226.99 1266.23,1226.35 1269.23,1226.35 1272.23,1225.99 1275.23,1225.71 1278.24,1225.71 1281.24,1225.71 1284.24,1225.59 1287.24,1225.59 1290.24,1225.4 1293.24,1225.39 1296.25,1225.39 1299.25,1225.03 1302.25,1225.03 1305.25,1224.98 1308.25,1224.91 1311.26,1224.68 1314.26,1224.65 1317.26,1224.1 1320.26,1224.1 1323.26,1223.96 1326.26,1223.96 1329.27,1223.71 1332.27,1223.5 1335.27,1223.5 1338.27,1223.36" fill="none" stroke="#7f7f7f" stroke-width="2.4" stroke-linejoin="round" stroke-linecap="butt"/>
<polyline points="888.6,1579.71 891,1579.69 894,1579.34 897.01,1579.34 900.01,1579.32 903.01,1578.85 906.01,1578.85 909.01,1578.85 912.01,1578.85 915.02,1578.71 918.02,1578.53 921.02,1578.42 924.02,1578.42 927.02,1578.33 930.03,1578.25 933.03,1578.25 936.03,1578.01 939.03,1577.88 942.03,1577.88 945.03,1577.88 948.04,1577.88 951.04,1577.87 954.04,1577.82 957.04,1577.67 960.04,1577.58 963.05,1576.77 966.05,1576.77 969.05,1576.26 972.05,1576.26 975.05,1576.26 978.05,1575.29 981.06,1575.04 984.06,1574.35 987.06,1573.86 990.06,1573.38 993.06,1572.65 996.07,1571.54 999.07,1570.72 1002.07,1569.64 1005.07,1568.23 1008.07,1566.9 1011.07,1566.02 1014.08,1564.51 1017.08,1562.57 1020.08,1561.17 1023.08,1558.87 1026.08,1556.64 1029.09,1554.88 1032.09,1552.45 1035.09,1550.2 1038.09,1547.37 1041.09,1544.82 1044.09,1542.1 1047.1,1538.6 1050.1,1535.82 1053.1,1531.99 1056.1,1527.81 1059.1,1524.17 1062.11,1519.88 1065.11,1516 1068.11,1511.93 1071.11,1506.95 1074.11,1502.56 1077.11,1497.82 1080.12,1492.27 1083.12,1486.19 1086.12,1480.54 1089.12,1474.17 1092.12,1468.53 1095.13,1462.86 1098.13,1457.14 1101.13,1451.48 1104.13,1445.74 1107.13,1440.5 1110.13,1434.23 1113.14,1427.93 1116.14,1421.35 1119.14,1414.56 1122.14,1406.75 1125.14,1399.03 1128.15,1391.16 1131.15,1383.23 1134.15,1375.11 1137.15,1367.57 1140.15,1359.2 1143.15,1351.48 1146.16,1344.38 1149.16,1337.39 1152.16,1330.74 1155.16,1324.67 1158.16,1318.74 1161.17,1313.98 1164.17,1309.13 1167.17,1304.49 1170.17,1299.77 1173.17,1295.57 1176.17,1291.75 1179.18,1287.28 1182.18,1283.63 1185.18,1279.32 1188.18,1275.77 1191.18,1272.65 1194.19,1269.37 1197.19,1266.49 1200.19,1263.33 1203.19,1260.37 1206.19,1257.17 1209.19,1253.96 1212.2,1251.12 1215.2,1248.69 1218.2,1246.07 1221.2,1244.03 1224.2,1241.94 1227.2,1240.24 1230.21,1238.91 1233.21,1237.88 1236.21,1236.83 1239.21,1235.49 1242.21,1234.49 1245.22,1233.22 1248.22,1232.57 1251.22,1231.95 1254.22,1231.35 1257.22,1230.74 1260.22,1230.26 1263.23,1229.78 1266.23,1228.87 1269.23,1228.62 1272.23,1228.01 1275.23,1227.51 1278.24,1227.51 1281.24,1227.2 1284.24,1226.92 1287.24,1226.8 1290.24,1226.5 1293.24,1226.39 1296.25,1226.31 1299.25,1225.83 1302.25,1225.79 1305.25,1225.63 1308.25,1225.48 1311.26,1225.19 1314.26,1225.11 1317.26,1224.49 1320.26,1224.49 1323.26,1224.24 1326.26,1224.24 1329.27,1223.88 1332.27,1223.61 1335.27,1223.61 1338.27,1223.36" fill="none" stroke="#e41a1c" stroke-width="2.4" stroke-linejoin="round" stroke-linecap="butt"/>
<rect x="888.6" y="1215.1" width="449.7" height="371.1" fill="none" stroke="#000" stroke-width="2.8"/>
<line x1="874.1" y1="1580.3" x2="888.6" y2="1580.3" stroke="#000" stroke-width="2.5"/>
<line x1="874.1" y1="1508.82" x2="888.6" y2="1508.82" stroke="#000" stroke-width="2.5"/>
<line x1="874.1" y1="1437.34" x2="888.6" y2="1437.34" stroke="#000" stroke-width="2.5"/>
<line x1="874.1" y1="1365.86" x2="888.6" y2="1365.86" stroke="#000" stroke-width="2.5"/>
<line x1="874.1" y1="1294.38" x2="888.6" y2="1294.38" stroke="#000" stroke-width="2.5"/>
<line x1="874.1" y1="1222.9" x2="888.6" y2="1222.9" stroke="#000" stroke-width="2.5"/>
<line x1="972.8" y1="1586.2" x2="972.8" y2="1601.7" stroke="#000" stroke-width="2.5"/>
<text x="971.3" y="1642" font-size="36.9" text-anchor="middle">−1</text>
<line x1="1113.1" y1="1586.2" x2="1113.1" y2="1601.7" stroke="#000" stroke-width="2.5"/>
<text x="1113.1" y="1642" font-size="36.9" text-anchor="middle">0</text>
<line x1="1253.4" y1="1586.2" x2="1253.4" y2="1601.7" stroke="#000" stroke-width="2.5"/>
<text x="1253.4" y="1642" font-size="36.9" text-anchor="middle">1</text>
<line x1="902.65" y1="1586.2" x2="902.65" y2="1594.7" stroke="#000" stroke-width="2.2"/>
<line x1="1042.95" y1="1586.2" x2="1042.95" y2="1594.7" stroke="#000" stroke-width="2.2"/>
<line x1="1183.25" y1="1586.2" x2="1183.25" y2="1594.7" stroke="#000" stroke-width="2.2"/>
<line x1="1323.55" y1="1586.2" x2="1323.55" y2="1594.7" stroke="#000" stroke-width="2.2"/>
<polyline points="1384.8,1579 1387,1579 1390,1579 1393.01,1579 1396.01,1579 1399.01,1579 1402.01,1578.86 1405.01,1578.86 1408.01,1578.62 1411.02,1578.51 1414.02,1578.51 1417.02,1578.51 1420.02,1578.51 1423.02,1578.51 1426.03,1578.51 1429.03,1578.48 1432.03,1578.14 1435.03,1578.14 1438.03,1577.79 1441.03,1577.59 1444.04,1577.59 1447.04,1577.59 1450.04,1577.23 1453.04,1577.06 1456.04,1576.65 1459.05,1576.65 1462.05,1575.94 1465.05,1575.7 1468.05,1574.91 1471.05,1574.29 1474.05,1573.87 1477.06,1572.68 1480.06,1571.91 1483.06,1571.11 1486.06,1570.38 1489.06,1568.99 1492.07,1568.38 1495.07,1566.69 1498.07,1566.01 1501.07,1564.51 1504.07,1562.53 1507.07,1560.66 1510.08,1558.84 1513.08,1556.16 1516.08,1553.53 1519.08,1550.57 1522.08,1548.17 1525.09,1545.32 1528.09,1541.99 1531.09,1539.04 1534.09,1536.43 1537.09,1532.52 1540.09,1529.2 1543.1,1524.91 1546.1,1520.49 1549.1,1515.88 1552.1,1511.24 1555.1,1505.89 1558.11,1500.6 1561.11,1495.02 1564.11,1489.3 1567.11,1483.82 1570.11,1478.27 1573.11,1472 1576.12,1465.66 1579.12,1458.17 1582.12,1451.36 1585.12,1443.28 1588.12,1435.86 1591.13,1427.77 1594.13,1420.23 1597.13,1412.87 1600.13,1404.54 1603.13,1397.19 1606.13,1389.15 1609.14,1381.06 1612.14,1373.15 1615.14,1365.22 1618.14,1357.95 1621.14,1351.29 1624.15,1344.63 1627.15,1338.02 1630.15,1331.55 1633.15,1325.96 1636.15,1320.07 1639.15,1315.07 1642.16,1309.76 1645.16,1305.04 1648.16,1301.03 1651.16,1296.7 1654.16,1292.12 1657.17,1287.86 1660.17,1284.08 1663.17,1279.46 1666.17,1275.33 1669.17,1271.73 1672.17,1268.01 1675.18,1265.12 1678.18,1262 1681.18,1258.83 1684.18,1256.43 1687.18,1254.05 1690.19,1251.46 1693.19,1249.61 1696.19,1247.38 1699.19,1245.35 1702.19,1243.39 1705.19,1241.54 1708.2,1239.98 1711.2,1238.77 1714.2,1237.64 1717.2,1236.9 1720.2,1235.8 1723.2,1234.67 1726.21,1233.59 1729.21,1232.82 1732.21,1231.61 1735.21,1231.2 1738.21,1230.4 1741.22,1229.34 1744.22,1228.52 1747.22,1227.9 1750.22,1227.27 1753.22,1226.53 1756.22,1226.3 1759.23,1225.77 1762.23,1225.25 1765.23,1224.82 1768.23,1224.58 1771.23,1224.22 1774.24,1224.18 1777.24,1224.16 1780.24,1223.67 1783.24,1223.48 1786.24,1223.22 1789.24,1223.22 1792.25,1223.02 1795.25,1222.7 1798.25,1222.7 1801.25,1222.7 1804.25,1222.7 1807.26,1222.62 1810.26,1222.09 1813.26,1222.09 1816.26,1222.09 1819.26,1222.09 1822.26,1222.07 1825.27,1222.07 1828.27,1222.07 1831.27,1222.07 1833.6,1222.07" fill="none" stroke="#7f7f7f" stroke-width="2.1" stroke-linejoin="round" stroke-linecap="butt"/>
<polyline points="1384.8,1578.78 1387,1578.78 1390,1578.77 1393.01,1578.67 1396.01,1578.45 1399.01,1578.45 1402.01,1578.32 1405.01,1578.32 1408.01,1578.32 1411.02,1577.89 1414.02,1577.89 1417.02,1577.7 1420.02,1577.62 1423.02,1577.57 1426.03,1577.57 1429.03,1577.5 1432.03,1577.06 1435.03,1577.06 1438.03,1576.87 1441.03,1576.73 1444.04,1576.26 1447.04,1576.24 1450.04,1576.12 1453.04,1575.33 1456.04,1575.13 1459.05,1574.48 1462.05,1574.02 1465.05,1573.33 1468.05,1572.63 1471.05,1571.78 1474.05,1571.46 1477.06,1570.14 1480.06,1569.8 1483.06,1568.16 1486.06,1567.29 1489.06,1565.93 1492.07,1564.15 1495.07,1562.52 1498.07,1560.75 1501.07,1559.1 1504.07,1557.2 1507.07,1555.29 1510.08,1553.03 1513.08,1550.81 1516.08,1548.59 1519.08,1546.15 1522.08,1543.9 1525.09,1541.51 1528.09,1538.73 1531.09,1536.09 1534.09,1532.92 1537.09,1529.15 1540.09,1525.14 1543.1,1521.18 1546.1,1517.04 1549.1,1512 1552.1,1506.86 1555.1,1501.35 1558.11,1495.6 1561.11,1489.51 1564.11,1483.61 1567.11,1477.96 1570.11,1471.48 1573.11,1465.9 1576.12,1460.22 1579.12,1454.2 1582.12,1447.53 1585.12,1440.88 1588.12,1434.13 1591.13,1426.95 1594.13,1419.97 1597.13,1412.7 1600.13,1404.88 1603.13,1396.57 1606.13,1388.77 1609.14,1381.2 1612.14,1373.48 1615.14,1365.68 1618.14,1358.5 1621.14,1352.56 1624.15,1346.23 1627.15,1340.33 1630.15,1334.45 1633.15,1328.84 1636.15,1323.66 1639.15,1318.23 1642.16,1313.45 1645.16,1309.04 1648.16,1304.49 1651.16,1300.89 1654.16,1296.94 1657.17,1293.26 1660.17,1290.16 1663.17,1286.09 1666.17,1282.46 1669.17,1278.31 1672.17,1274.15 1675.18,1270.15 1678.18,1266.46 1681.18,1262.69 1684.18,1260 1687.18,1257.29 1690.19,1255.02 1693.19,1253.17 1696.19,1251.67 1699.19,1249.04 1702.19,1247.23 1705.19,1244.96 1708.2,1242.7 1711.2,1240.98 1714.2,1239.24 1717.2,1237.5 1720.2,1236.52 1723.2,1234.99 1726.21,1233.66 1729.21,1233.04 1732.21,1232.19 1735.21,1231.2 1738.21,1230.22 1741.22,1229.6 1744.22,1228.85 1747.22,1228.1 1750.22,1227.35 1753.22,1226.52 1756.22,1226.03 1759.23,1226.02 1762.23,1225.62 1765.23,1224.82 1768.23,1224.57 1771.23,1224.38 1774.24,1224.38 1777.24,1223.73 1780.24,1223.71 1783.24,1223.37 1786.24,1223.13 1789.24,1222.87 1792.25,1222.67 1795.25,1222.54 1798.25,1222.38 1801.25,1222.38 1804.25,1222.38 1807.26,1222.38 1810.26,1222.38 1813.26,1222.38 1816.26,1222.38 1819.26,1222.18 1822.26,1222.18 1825.27,1222.18 1828.27,1222.18 1831.27,1222.18 1833.6,1222.18" fill="none" stroke="#4daf4a" stroke-width="2.1" stroke-linejoin="round" stroke-linecap="butt"/>
<rect x="1384.8" y="1215.1" width="448.8" height="371.1" fill="none" stroke="#000" stroke-width="2.8"/>
<line x1="1370.3" y1="1580.3" x2="1384.8" y2="1580.3" stroke="#000" stroke-width="2.5"/>
<line x1="1370.3" y1="1508.82" x2="1384.8" y2="1508.82" stroke="#000" stroke-width="2.5"/>
<line x1="1370.3" y1="1437.34" x2="1384.8" y2="1437.34" stroke="#000" stroke-width="2.5"/>
<line x1="1370.3" y1="1365.86" x2="1384.8" y2="1365.86" stroke="#000" stroke-width="2.5"/>
<line x1="1370.3" y1="1294.38" x2="1384.8" y2="1294.38" stroke="#000" stroke-width="2.5"/>
<line x1="1370.3" y1="1222.9" x2="1384.8" y2="1222.9" stroke="#000" stroke-width="2.5"/>
<line x1="1468.4" y1="1586.2" x2="1468.4" y2="1601.7" stroke="#000" stroke-width="2.5"/>
<text x="1466.9" y="1642" font-size="36.9" text-anchor="middle">−1</text>
<line x1="1608.7" y1="1586.2" x2="1608.7" y2="1601.7" stroke="#000" stroke-width="2.5"/>
<text x="1608.7" y="1642" font-size="36.9" text-anchor="middle">0</text>
<line x1="1749" y1="1586.2" x2="1749" y2="1601.7" stroke="#000" stroke-width="2.5"/>
<text x="1749" y="1642" font-size="36.9" text-anchor="middle">1</text>
<line x1="1398.25" y1="1586.2" x2="1398.25" y2="1594.7" stroke="#000" stroke-width="2.2"/>
<line x1="1538.55" y1="1586.2" x2="1538.55" y2="1594.7" stroke="#000" stroke-width="2.2"/>
<line x1="1678.85" y1="1586.2" x2="1678.85" y2="1594.7" stroke="#000" stroke-width="2.2"/>
<line x1="1819.15" y1="1586.2" x2="1819.15" y2="1594.7" stroke="#000" stroke-width="2.2"/>
<text x="859.3" y="1593.7" font-size="36.9" text-anchor="end">0.0</text>
<text x="859.3" y="1522.22" font-size="36.9" text-anchor="end">0.2</text>
<text x="859.3" y="1450.74" font-size="36.9" text-anchor="end">0.4</text>
<text x="859.3" y="1379.26" font-size="36.9" text-anchor="end">0.6</text>
<text x="859.3" y="1307.78" font-size="36.9" text-anchor="end">0.8</text>
<text x="859.3" y="1236.3" font-size="36.9" text-anchor="end">1.0</text>
<text font-size="37.5" text-anchor="middle" transform="translate(783.2 1402) rotate(-90)">Cumulative fraction</text>
<text x="1342" y="1684.9" font-size="36.9" text-anchor="middle">Winscore in HeLa</text>
<text x="909.6" y="1261.7" font-size="37.15" fill="#e41a1c">Non-clustered</text>
<text x="909.6" y="1299.6" font-size="37" fill="#7f7f7f">Control</text>
<text x="1161.7" y="1570" font-size="32.5"><tspan font-style="italic">p</tspan>=0.0001</text>
<text x="1404" y="1260.1" font-size="36.4" fill="#4daf4a">Clustered</text>
<text x="1404" y="1306.3" font-size="36" fill="#7f7f7f">Control</text>
<text x="1712.8" y="1573.9" font-size="32"><tspan font-style="italic">p</tspan>=0.51</text>
<!-- panel g -->
<text x="12.6" y="1776.3" font-size="48" font-weight="bold">g</text>
<line x1="51.7" y1="2031.4" x2="1671" y2="2031.4" stroke="#808080" stroke-width="10.8"/>
<rect x="198.6" y="1966.7" width="19.53" height="15.3" fill="#999999" stroke="#6c6c6c" stroke-width="1"/>
<rect x="218.13" y="1958.3" width="19.53" height="23.7" fill="#999999" stroke="#6c6c6c" stroke-width="1"/>
<rect x="237.66" y="1946" width="19.53" height="36" fill="#999999" stroke="#6c6c6c" stroke-width="1"/>
<rect x="257.19" y="1926.3" width="19.53" height="55.7" fill="#999999" stroke="#6c6c6c" stroke-width="1"/>
<rect x="276.72" y="1906.6" width="19.53" height="75.4" fill="#e7f4aa" stroke="#7f8c58" stroke-width="1"/>
<rect x="296.25" y="1885.9" width="19.53" height="96.1" fill="#e7f4aa" stroke="#7f8c58" stroke-width="1"/>
<rect x="315.78" y="1866.6" width="19.53" height="115.4" fill="#e7f4aa" stroke="#7f8c58" stroke-width="1"/>
<rect x="335.31" y="1862.4" width="19.53" height="119.6" fill="#e7f4aa" stroke="#7f8c58" stroke-width="1"/>
<rect x="354.84" y="1862.4" width="19.53" height="119.6" fill="#e7f4aa" stroke="#7f8c58" stroke-width="1"/>
<rect x="374.37" y="1859.5" width="19.53" height="122.5" fill="#e7f4aa" stroke="#7f8c58" stroke-width="1"/>
<rect x="393.9" y="1855.7" width="19.53" height="126.3" fill="#e7f4aa" stroke="#7f8c58" stroke-width="1"/>
<rect x="413.43" y="1853.2" width="19.53" height="128.8" fill="#e7f4aa" stroke="#7f8c58" stroke-width="1"/>
<rect x="432.96" y="1842.7" width="19.53" height="139.3" fill="#e7f4aa" stroke="#7f8c58" stroke-width="1"/>
<rect x="597.6" y="1842.7" width="19.49" height="139.3" fill="#e7f4aa" stroke="#7f8c58" stroke-width="1"/>
<rect x="617.09" y="1838.8" width="19.49" height="143.2" fill="#e7f4aa" stroke="#7f8c58" stroke-width="1"/>
<rect x="636.58" y="1835.3" width="19.49" height="146.7" fill="#e7f4aa" stroke="#7f8c58" stroke-width="1"/>
<rect x="656.07" y="1831.8" width="19.49" height="150.2" fill="#e7f4aa" stroke="#7f8c58" stroke-width="1"/>
<rect x="675.56" y="1829.3" width="19.49" height="152.7" fill="#e7f4aa" stroke="#7f8c58" stroke-width="1"/>
<rect x="695.05" y="1825.4" width="19.49" height="156.6" fill="#e7f4aa" stroke="#7f8c58" stroke-width="1"/>
<rect x="714.54" y="1823" width="19.49" height="159" fill="#e7f4aa" stroke="#7f8c58" stroke-width="1"/>
<rect x="734.03" y="1824.4" width="19.49" height="157.6" fill="#39b54a" stroke="#5c9a4c" stroke-width="1"/>
<rect x="753.52" y="1823.3" width="19.49" height="158.7" fill="#e7f4aa" stroke="#7f8c58" stroke-width="1"/>
<rect x="773.01" y="1823" width="19.49" height="159" fill="#f7931e" stroke="#b9862f" stroke-width="1"/>
<rect x="1006" y="1823.3" width="19.57" height="158.7" fill="#e7f4aa" stroke="#7f8c58" stroke-width="1"/>
<rect x="1025.57" y="1824.7" width="19.57" height="157.3" fill="#39b54a" stroke="#5c9a4c" stroke-width="1"/>
<rect x="1045.14" y="1825.8" width="19.57" height="156.2" fill="#e7f4aa" stroke="#7f8c58" stroke-width="1"/>
<rect x="1064.71" y="1828.3" width="19.57" height="153.7" fill="#e7f4aa" stroke="#7f8c58" stroke-width="1"/>
<rect x="1084.28" y="1838.1" width="19.57" height="143.9" fill="#e7f4aa" stroke="#7f8c58" stroke-width="1"/>
<rect x="1103.85" y="1834.9" width="19.57" height="147.1" fill="#e7f4aa" stroke="#7f8c58" stroke-width="1"/>
<rect x="1123.42" y="1829.7" width="19.57" height="152.3" fill="#e7f4aa" stroke="#7f8c58" stroke-width="1"/>
<rect x="1142.99" y="1834.9" width="19.57" height="147.1" fill="#e7f4aa" stroke="#7f8c58" stroke-width="1"/>
<rect x="1162.56" y="1827.2" width="19.57" height="154.8" fill="#e7f4aa" stroke="#7f8c58" stroke-width="1"/>
<rect x="1182.13" y="1831.8" width="19.57" height="150.2" fill="#e7f4aa" stroke="#7f8c58" stroke-width="1"/>
<rect x="1201.7" y="1834.9" width="19.57" height="147.1" fill="#39b54a" stroke="#5c9a4c" stroke-width="1"/>
<rect x="1221.27" y="1838.1" width="19.57" height="143.9" fill="#e7f4aa" stroke="#7f8c58" stroke-width="1"/>
<rect x="1240.84" y="1842.7" width="19.57" height="139.3" fill="#f7931e" stroke="#b9862f" stroke-width="1"/>
<rect x="1260.41" y="1842.7" width="19.57" height="139.3" fill="#e7f4aa" stroke="#7f8c58" stroke-width="1"/>
<rect x="1279.98" y="1853.2" width="19.57" height="128.8" fill="#39b54a" stroke="#5c9a4c" stroke-width="1"/>
<rect x="1299.55" y="1860.2" width="19.57" height="121.8" fill="#e7f4aa" stroke="#7f8c58" stroke-width="1"/>
<rect x="1319.12" y="1860.2" width="19.57" height="121.8" fill="#e7f4aa" stroke="#7f8c58" stroke-width="1"/>
<rect x="1338.69" y="1885.6" width="19.57" height="96.4" fill="#39b54a" stroke="#5c9a4c" stroke-width="1"/>
<rect x="1358.26" y="1926.3" width="19.57" height="55.7" fill="#999999" stroke="#6c6c6c" stroke-width="1"/>
<rect x="1377.83" y="1926.3" width="19.57" height="55.7" fill="#999999" stroke="#6c6c6c" stroke-width="1"/>
<rect x="1397.4" y="1894.7" width="19.57" height="87.3" fill="#f7931e" stroke="#b9862f" stroke-width="1"/>
<rect x="1416.97" y="1910.2" width="19.57" height="71.8" fill="#e7f4aa" stroke="#7f8c58" stroke-width="1"/>
<rect x="1436.54" y="1942.5" width="19.57" height="39.5" fill="#999999" stroke="#6c6c6c" stroke-width="1"/>
<rect x="1456.11" y="1956.6" width="19.57" height="25.4" fill="#999999" stroke="#6c6c6c" stroke-width="1"/>
<rect x="1475.68" y="1967.1" width="19.57" height="14.9" fill="#999999" stroke="#6c6c6c" stroke-width="1"/>
<rect x="1495.25" y="1967.1" width="19.57" height="14.9" fill="#999999" stroke="#6c6c6c" stroke-width="1"/>
<rect x="1514.82" y="1974.5" width="19.57" height="7.5" fill="#999999" stroke="#6c6c6c" stroke-width="1"/>
<rect x="179.5" y="2010.8" width="272.5" height="41.3" fill="#fff" stroke="#000" stroke-width="2.8"/>
<rect x="597.6" y="2010.8" width="194.3" height="41.3" fill="#fff" stroke="#000" stroke-width="2.8"/>
<rect x="877.1" y="2010.8" width="57.1" height="41.3" fill="#fff" stroke="#000" stroke-width="2.8"/>
<rect x="1006.1" y="2010.8" width="537.1" height="41.3" fill="#fff" stroke="#000" stroke-width="2.8"/>
<rect x="778.6" y="2010.8" width="7.4" height="41.3" fill="#f7931e"/>
<rect x="1249.6" y="2010.8" width="8.1" height="41.3" fill="#f7931e"/>
<rect x="1402.8" y="2010.8" width="8.5" height="41.3" fill="#f7931e"/>
<text x="318.9" y="2100.9" font-size="40.1" text-anchor="middle">Exon1</text>
<text x="686" y="2100.9" font-size="40.1" text-anchor="middle">Exon2</text>
<text x="899.7" y="2100.9" font-size="40.1" text-anchor="middle">Exon3</text>
<text x="906.2" y="2146.8" font-size="40.1" text-anchor="middle">(skipped)</text>
<text x="1274.8" y="2100.9" font-size="40.1" text-anchor="middle">Exon4</text>
<text x="637.6" y="1796.8" font-size="41.6" fill="#f7931e">Window with m<tspan dy="-13.85" font-size="24.25">5</tspan><tspan dy="13.85">C</tspan></text>
<text x="1299.8" y="1841.9" font-size="41.5" fill="#39b54a">Control window</text>
<text x="1496.6" y="1911" font-size="41.4" fill="#999999">Window without</text>
<text x="1496.6" y="1957.3" font-size="41.4" fill="#999999">enough coverage</text>
<text x="1190.3" y="1806.8" font-size="32.7">200 nt</text>
<polyline points="1212.4,1830.9 1212.4,1817.6 1249.8,1817.6 1249.8,1830.9" fill="none" stroke="#000" stroke-width="3.2"/>
</svg>
</body>
</html>
